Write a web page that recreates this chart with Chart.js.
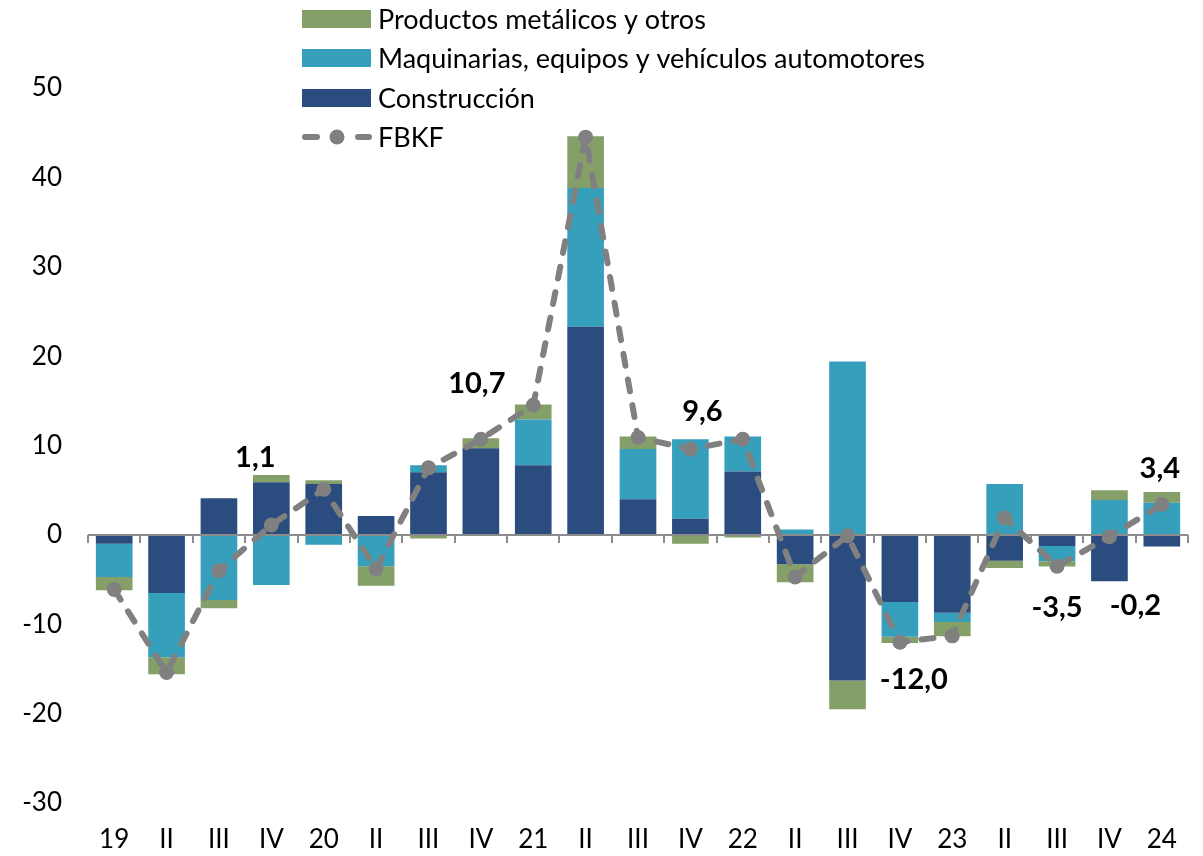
<!DOCTYPE html>
<html><head><meta charset="utf-8">
<script src="https://cdn.jsdelivr.net/npm/chart.js@4/dist/chart.umd.min.js"></script>
<style>html,body{margin:0;padding:0;background:#fff}#wrap{width:1203px;height:856px;position:relative}</style>
</head><body><div id="wrap"><canvas id="c" width="1203" height="856"></canvas></div>
<script>
// ---- data ----
const categories = ['19','II','III','IV','20','II','III','IV','21','II','III','IV','22','II','III','IV','23','II','III','IV','24'];
const construccion = [-1.0,-6.5,4.1,5.9,5.7,2.1,7.0,9.7,7.8,23.3,4.0,1.8,7.1,-3.3,-16.3,-7.5,-8.7,-2.9,-1.25,-5.2,-1.3];
const maquinarias  = [-3.7,-7.2,-7.3,-5.6,-1.1,-3.5,0.8,0.0,5.1,15.5,5.6,8.9,3.9,0.6,19.4,-3.9,-1.05,5.7,-1.7,3.9,3.6];
const productos    = [-1.5,-1.9,-0.9,0.8,0.4,-2.2,-0.4,1.1,1.7,5.8,1.4,-1.0,-0.3,-2.0,-3.2,-0.7,-1.6,-0.8,-0.6,1.1,1.2];
const fbkf         = [-6.1,-15.4,-4.0,1.1,5.1,-3.8,7.5,10.7,14.5,44.5,10.9,9.6,10.7,-4.7,-0.1,-12.0,-11.3,1.9,-3.5,-0.2,3.4];
const labeledIdx   = [3,7,11,15,18,19,20];
const yMin = -30, yMax = 50, yStep = 10;

// ---- styles ----
const COL_CONS = '#2B4C7E', COL_MAQ = '#369FBC', COL_PROD = '#84A068', COL_LINE = '#808080';
const FONT = 'Lato, "DejaVu Sans", sans-serif';
// label offsets (px) relative to the point, same order as labeledIdx
const labelOffsets = [[-16,-67],[-4,-56],[12,-37],[14,38],[0,41],[26,69],[-2,-36]];

const fmt = v => v.toFixed(1).replace('.', ',');

const axisPlugin = {
  id: 'zeroAxis',
  beforeDatasetDraw(chart, args) {
    if (args.index !== 3) return;
    const ctx = chart.ctx, xs = chart.scales.x, ys = chart.scales.y;
    const y0 = ys.getPixelForValue(0);
    const n = categories.length;
    const w = (xs.getPixelForValue(1) - xs.getPixelForValue(0));
    ctx.save();
    ctx.strokeStyle = '#8C8C8C';
    ctx.lineWidth = 2;
    ctx.beginPath();
    ctx.moveTo(xs.getPixelForValue(0) - w/2, y0);
    ctx.lineTo(xs.getPixelForValue(n-1) + w/2, y0);
    for (let i = 0; i <= n; i++) {
      const x = Math.round(xs.getPixelForValue(0) - w/2 + i*w);
      ctx.moveTo(x, y0);
      ctx.lineTo(x, y0 + 8);
    }
    ctx.stroke();
    ctx.restore();
  },
  afterDatasetsDraw(chart) {
    const ctx = chart.ctx;
    const meta = chart.getDatasetMeta(3);
    ctx.save();
    ctx.font = 'bold 29px ' + FONT;
    ctx.fillStyle = '#000';
    ctx.textAlign = 'center';
    ctx.textBaseline = 'middle';
    labeledIdx.forEach((idx, k) => {
      const p = meta.data[idx];
      ctx.fillText(fmt(fbkf[idx]), p.x + labelOffsets[k][0], p.y + labelOffsets[k][1]);
    });
    ctx.restore();
  },
  afterDraw(chart) {
    const ctx = chart.ctx;
    const ds = chart.data.datasets;
    const items = [ds[2], ds[1], ds[0], ds[3]];
    const rows = [19, 58, 98, 137];
    ctx.save();
    ctx.font = '27px ' + FONT;
    ctx.textBaseline = 'middle';
    items.forEach((d, i) => {
      const y = rows[i];
      if (d.type === 'line') {
        ctx.strokeStyle = d.borderColor;
        ctx.lineWidth = 6;
        ctx.lineCap = 'round';
        ctx.beginPath();
        ctx.moveTo(305, y); ctx.lineTo(317, y);
        ctx.moveTo(358, y); ctx.lineTo(369, y);
        ctx.stroke();
        ctx.fillStyle = d.pointBackgroundColor;
        ctx.beginPath(); ctx.arc(337, y, 7.5, 0, Math.PI*2); ctx.fill();
      } else {
        ctx.fillStyle = d.backgroundColor;
        ctx.fillRect(302, y - 9, 69, 18);
      }
      ctx.fillStyle = '#000';
      ctx.fillText(d.label, 378, y + 1);
    });
    ctx.restore();
  }
};

new Chart(document.getElementById('c'), {
  data: {
    labels: categories,
    datasets: [
      {type:'bar', label:'Construcción', data: construccion, backgroundColor: COL_CONS, stack:'s', order:1},
      {type:'bar', label:'Maquinarias, equipos y vehículos automotores', data: maquinarias, backgroundColor: COL_MAQ, stack:'s', order:1},
      {type:'bar', label:'Productos metálicos y otros', data: productos, backgroundColor: COL_PROD, stack:'s', order:1},
      {type:'line', label:'FBKF', data: fbkf, borderColor: COL_LINE, backgroundColor: COL_LINE,
       pointBackgroundColor: COL_LINE, pointBorderWidth: 0, pointRadius: 7.5, borderWidth: 6,
       borderDash: [12, 14], borderCapStyle: 'round', tension: 0, fill: false, stack:'line', order:0}
    ]
  },
  options: {
    responsive: false,
    devicePixelRatio: 1,
    animation: false,
    datasets: { bar: { categoryPercentage: 1.0, barPercentage: 0.7 } },
    layout: { padding: { left: 0, right: 15, top: 88, bottom: 2 } },
    plugins: { legend: { display: false }, tooltip: { enabled: false } },
    scales: {
      x: {
        stacked: true,
        grid: { display: false },
        border: { display: false },
        ticks: { font: { family: FONT, size: 26 }, color: '#000', padding: 13, maxRotation: 0, autoSkip: false },
        afterFit(scale) { scale.height = 51; }
      },
      y: {
        stacked: true,
        min: yMin, max: yMax,
        grid: { display: false, drawTicks: false },
        border: { display: false },
        ticks: { stepSize: yStep, font: { family: FONT, size: 26 }, color: '#000', padding: 26 },
        afterFit(scale) { scale.width = 88; }
      }
    }
  },
  plugins: [axisPlugin]
});
</script></body></html>
